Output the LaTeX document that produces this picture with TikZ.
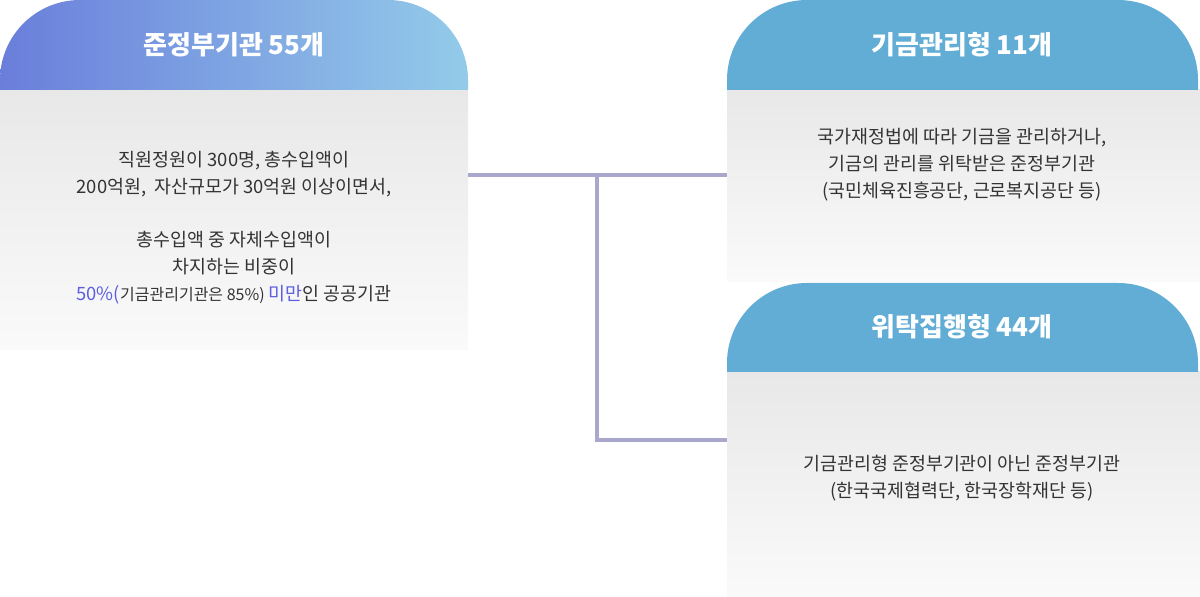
\documentclass[tikz,border=0pt]{standalone}
\usepackage{fontspec}
\setmainfont{Noto Sans CJK KR}
\usepackage{tikz}
\definecolor{hdrblue}{HTML}{62ADD6}
\definecolor{hdrleft}{HTML}{6A7EDB}
\definecolor{hdrright}{HTML}{93CBE9}
\definecolor{linkline}{HTML}{A9A8CC}
\definecolor{accent}{HTML}{5C5FE0}
\definecolor{bodytext}{HTML}{333333}

\begin{document}
\begin{tikzpicture}[x=0.5pt,y=-0.5pt,
  hdrtext/.style={text=white,font=\fontsize{13}{15}\selectfont\bfseries},
  bodyfill/.style={top color=black!9,bottom color=black!2},
  bodytxt/.style={text=bodytext,align=center,font=\fontsize{9.2}{13.5}\selectfont},
  link/.style={linkline,line width=2pt}]
\useasboundingbox (0,0) rectangle (1200,597);
% left card
\fill[bodyfill] (0,90) rectangle (468,350);
\shade[left color=hdrleft,right color=hdrright,rounded corners=40]
  (0,90) -- (0,0) -- (468,0) [sharp corners] -- (468,90) -- cycle;
\node[hdrtext] (qgov) at (234,45) {준정부기관 55개};
\node[bodytxt] (qgovtxt) at (234,228) {직원정원이 300명, 총수입액이\\200억원,\ \ 자산규모가 30억원 이상이면서,\\[13pt]
총수입액 중 자체수입액이\\차지하는 비중이\\
{\color{accent}50\%(}{\fontsize{8}{13}\selectfont 기금관리기관은 85\%)} {\color{accent}미만}인 공공기관};
% right cards
\fill[bodyfill] (727,90) rectangle (1200,282);
\fill[hdrblue,rounded corners=40]
  (727,90) -- (727,0) -- (1198,0) [sharp corners] -- (1198,90) -- cycle;
\node[hdrtext] (fund) at (962,45) {기금관리형 11개};
\node[bodytxt] (fundtxt) at (962,165) {국가재정법에 따라 기금을 관리하거나,\\기금의 관리를 위탁받은 준정부기관\\(국민체육진흥공단, 근로복지공단 등)};
\fill[bodyfill] (727,372) rectangle (1200,597);
\fill[hdrblue,rounded corners=40]
  (727,372) -- (727,283) -- (1198,283) [sharp corners] -- (1198,372) -- cycle;
\node[hdrtext] (trust) at (962,327) {위탁집행형 44개};
\node[bodytxt] (trusttxt) at (962,478) {기금관리형 준정부기관이 아닌 준정부기관\\(한국국제협력단, 한국장학재단 등)};
% connectors
\coordinate (lout) at (468,175);
\coordinate (split) at (597,175);
\coordinate (bend) at (597,440);
\coordinate (fundin) at (727,175);
\coordinate (trustin) at (727,440);
\draw[link] (lout) -- (fundin);
\draw[link] (split) -- (bend) -- (trustin);
\end{tikzpicture}
\end{document}
